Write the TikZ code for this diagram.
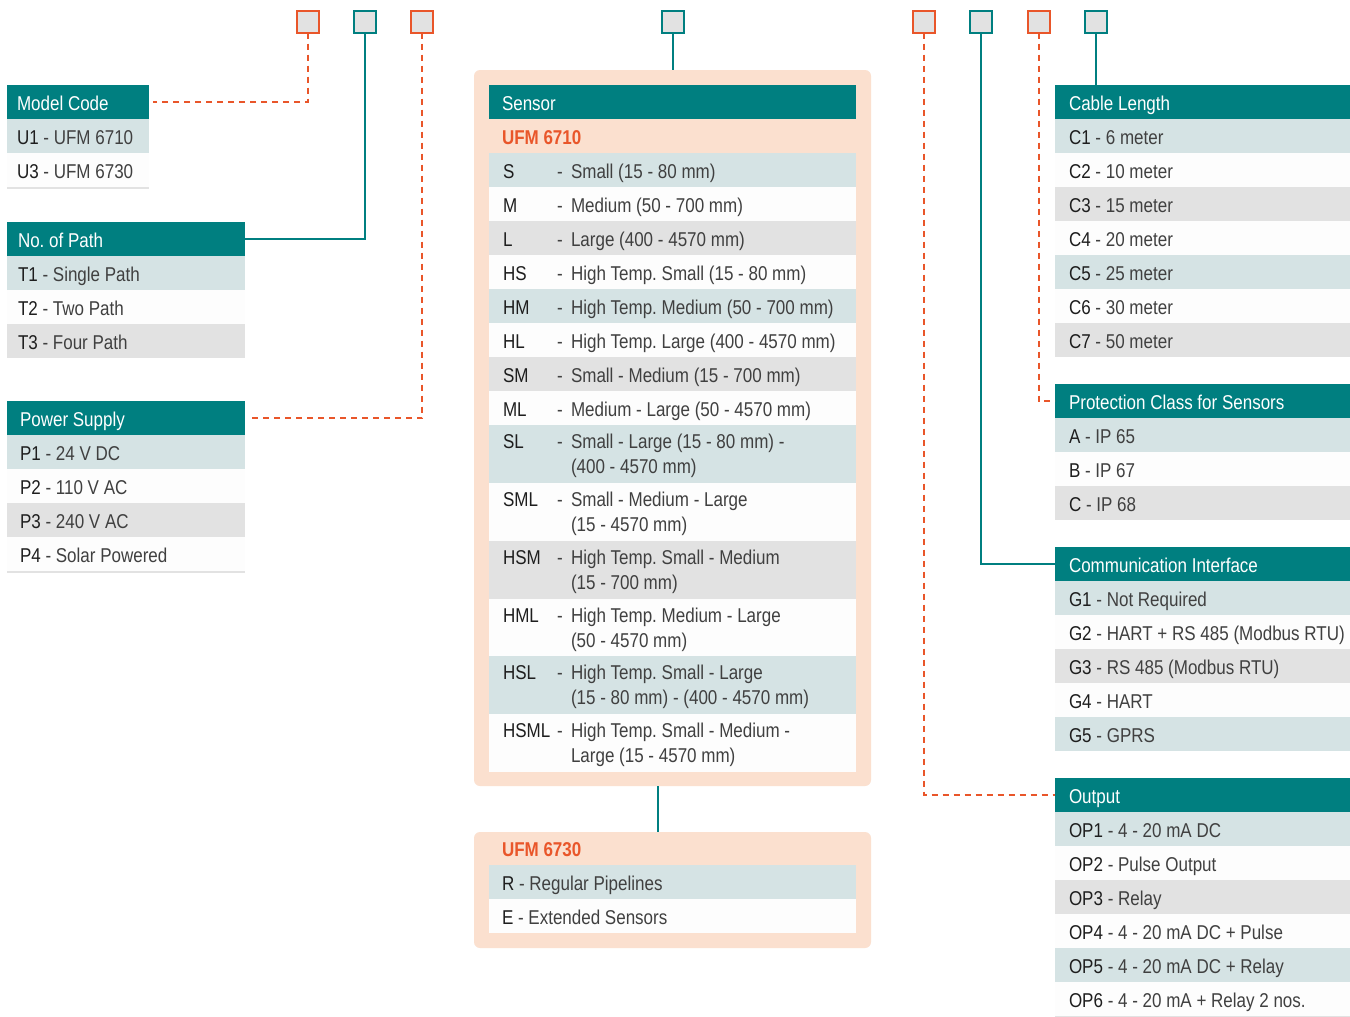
\documentclass[tikz,border=0pt]{standalone}
\usepackage{fontspec}
\setmainfont[FakeStretch=0.85]{Liberation Sans}
\definecolor{tealc}{HTML}{007F80}
\definecolor{orangec}{HTML}{E9562A}
\definecolor{peach}{HTML}{FBE0CF}
\definecolor{rowA}{HTML}{D5E3E4}
\definecolor{rowB}{HTML}{FDFDFD}
\definecolor{rowC}{HTML}{E2E2E2}
\definecolor{codec}{HTML}{1E1E1E}
\definecolor{txtc}{HTML}{404040}
\tikzset{
  every node/.style={font=\fontsize{20}{24}\selectfont, inner sep=0pt, outer sep=0pt},
  hdr/.style={fill=tealc, anchor=north west, minimum height=34, rectangle},
  hdrtxt/.style={anchor=base west, text=white},
  rowbox/.style={anchor=north west, minimum height=#1, rectangle},
  rowbox/.default=34,
  rowtxt/.style={anchor=base west, text=txtc},
  sqo/.style={draw=orangec, fill=rowC, line width=2pt, minimum size=22, rectangle},
  sqt/.style={draw=tealc, fill=rowC, line width=2pt, minimum size=22, rectangle},
  odash/.style={draw=orangec, line width=2pt, dash pattern=on 6pt off 5pt},
  tline/.style={draw=tealc, line width=2pt},
  outerbox/.style={fill=peach, rounded corners=6pt, anchor=north west, rectangle},
  ufm/.style={anchor=base west, text=orangec, font=\fontsize{20}{24}\selectfont\bfseries},
  bline/.style={fill=rowC, anchor=north west, minimum height=2, rectangle}
}
% header: name, x, y, width, pad, title
\newcommand\tblhdr[6]{%
  \node[hdr, minimum width=#4] (#1) at (#2,#3) {};
  \node[hdrtxt] (#1t) at (#2+#5,#3+25) {#6};}
% row: name, x, y, width, fill, pad, code, desc
\newcommand\tblrow[8]{%
  \node[rowbox, fill=#5, minimum width=#4] (#1) at (#2,#3) {};
  \node[rowtxt] (#1t) at (#2+#6,#3+25.5) {\textcolor{codec}{#7} - #8};}
% sensor single row: name, y, fill, code, desc
\newcommand\srow[5]{%
  \node[rowbox, fill=#3, minimum width=367] (#1) at (489,#2) {};
  \node[rowtxt] (#1c) at (503,#2+25.5) {\textcolor{codec}{#4}};
  \node[rowtxt] (#1d) at (557,#2+25.5) {-};
  \node[rowtxt] (#1t) at (571,#2+25.5) {#5};}
% sensor double row: name, y, fill, code, line1, line2
\newcommand\drow[6]{%
  \node[rowbox=58, fill=#3, minimum width=367] (#1) at (489,#2) {};
  \node[rowtxt] (#1c) at (503,#2+23.5) {\textcolor{codec}{#4}};
  \node[rowtxt] (#1d) at (557,#2+23.5) {-};
  \node[rowtxt] (#1t) at (571,#2+23.5) {#5};
  \node[rowtxt] (#1u) at (571,#2+48.5) {#6};}
\begin{document}
\frenchspacing
\begin{tikzpicture}[x=1pt, y=-1pt]
\useasboundingbox[fill=white] (0,0) rectangle (1350,1017);

% top code boxes
\node[sqo] (b1) at (307.5,21.5) {};
\node[sqt] (b2) at (365,21.5) {};
\node[sqo] (b3) at (422,21.5) {};
\node[sqt] (b4) at (673,21.5) {};
\node[sqo] (b5) at (924,21.5) {};
\node[sqt] (b6) at (981,21.5) {};
\node[sqo] (b7) at (1038.5,21.5) {};
\node[sqt] (b8) at (1096,21.5) {};

% Model Code
\tblhdr{hModel}{7}{85}{142}{10}{Model Code}
\tblrow{u1}{7}{119}{142}{rowA}{10}{U1}{UFM 6710}
\tblrow{u3}{7}{153}{142}{rowB}{10}{U3}{UFM 6730}
\node[bline, minimum width=142] (ul) at (7,187) {};

% No. of Path
\tblhdr{hPath}{7}{222}{238}{11}{No. of Path}
\tblrow{t1}{7}{256}{238}{rowA}{11}{T1}{Single Path}
\tblrow{t2}{7}{290}{238}{rowB}{11}{T2}{Two Path}
\tblrow{t3}{7}{324}{238}{rowC}{11}{T3}{Four Path}

% Power Supply
\tblhdr{hPower}{7}{401}{238}{13}{Power Supply}
\tblrow{p1}{7}{435}{238}{rowA}{13}{P1}{24 V DC}
\tblrow{p2}{7}{469}{238}{rowB}{13}{P2}{110 V AC}
\tblrow{p3}{7}{503}{238}{rowC}{13}{P3}{240 V AC}
\tblrow{p4}{7}{537}{238}{rowB}{13}{P4}{Solar Powered}
\node[bline, minimum width=238] (pl) at (7,571) {};

% Sensor
\node[outerbox, minimum width=397, minimum height=716] (sOuter) at (474,70) {};
\tblhdr{hSensor}{489}{85}{367}{13}{Sensor}
\node[ufm] (u6710) at (502,144) {UFM 6710};
\srow{sS}{153}{rowA}{S}{Small (15 - 80 mm)}
\srow{sM}{187}{rowB}{M}{Medium (50 - 700 mm)}
\srow{sL}{221}{rowC}{L}{Large (400 - 4570 mm)}
\srow{sHS}{255}{rowB}{HS}{High Temp. Small (15 - 80 mm)}
\srow{sHM}{289}{rowA}{HM}{High Temp. Medium (50 - 700 mm)}
\srow{sHL}{323}{rowB}{HL}{High Temp. Large (400 - 4570 mm)}
\srow{sSM}{357}{rowC}{SM}{Small - Medium (15 - 700 mm)}
\srow{sML}{391}{rowB}{ML}{Medium - Large (50 - 4570 mm)}
\drow{sSL}{425}{rowA}{SL}{Small - Large (15 - 80 mm) -}{(400 - 4570 mm)}
\drow{sSML}{483}{rowB}{SML}{Small - Medium - Large}{(15 - 4570 mm)}
\drow{sHSM}{541}{rowC}{HSM}{High Temp. Small - Medium}{(15 - 700 mm)}
\drow{sHML}{599}{rowB}{HML}{High Temp. Medium - Large}{(50 - 4570 mm)}
\drow{sHSL}{656}{rowA}{HSL}{High Temp. Small - Large}{(15 - 80 mm) - (400 - 4570 mm)}
\drow{sHSML}{714}{rowB}{HSML}{High Temp. Small - Medium -}{Large (15 - 4570 mm)}

% UFM 6730
\node[outerbox, minimum width=397, minimum height=116] (uOuter) at (474,832) {};
\node[ufm] (u6730) at (502,856) {UFM 6730};
\tblrow{rR}{489}{865}{367}{rowA}{13}{R}{Regular Pipelines}
\tblrow{rE}{489}{899}{367}{rowB}{13}{E}{Extended Sensors}

% Cable Length
\tblhdr{hCable}{1055}{85}{295}{14}{Cable Length}
\tblrow{c1}{1055}{119}{295}{rowA}{14}{C1}{6 meter}
\tblrow{c2}{1055}{153}{295}{rowB}{14}{C2}{10 meter}
\tblrow{c3}{1055}{187}{295}{rowC}{14}{C3}{15 meter}
\tblrow{c4}{1055}{221}{295}{rowB}{14}{C4}{20 meter}
\tblrow{c5}{1055}{255}{295}{rowA}{14}{C5}{25 meter}
\tblrow{c6}{1055}{289}{295}{rowB}{14}{C6}{30 meter}
\tblrow{c7}{1055}{323}{295}{rowC}{14}{C7}{50 meter}

% Protection Class
\tblhdr{hProt}{1055}{384}{295}{14}{Protection Class for Sensors}
\tblrow{pa}{1055}{418}{295}{rowA}{14}{A}{IP 65}
\tblrow{pb}{1055}{452}{295}{rowB}{14}{B}{IP 67}
\tblrow{pc}{1055}{486}{295}{rowC}{14}{C}{IP 68}

% Communication Interface
\tblhdr{hComm}{1055}{547}{295}{14}{Communication Interface}
\tblrow{g1}{1055}{581}{295}{rowA}{14}{G1}{Not Required}
\tblrow{g2}{1055}{615}{295}{rowB}{14}{G2}{HART + RS 485 (Modbus RTU)}
\tblrow{g3}{1055}{649}{295}{rowC}{14}{G3}{RS 485 (Modbus RTU)}
\tblrow{g4}{1055}{683}{295}{rowB}{14}{G4}{HART}
\tblrow{g5}{1055}{717}{295}{rowA}{14}{G5}{GPRS}

% Output
\tblhdr{hOut}{1055}{778}{295}{14}{Output}
\tblrow{o1}{1055}{812}{295}{rowA}{14}{OP1}{4 - 20 mA DC}
\tblrow{o2}{1055}{846}{295}{rowB}{14}{OP2}{Pulse Output}
\tblrow{o3}{1055}{880}{295}{rowC}{14}{OP3}{Relay}
\tblrow{o4}{1055}{914}{295}{rowB}{14}{OP4}{4 - 20 mA DC + Pulse}
\tblrow{o5}{1055}{948}{295}{rowA}{14}{OP5}{4 - 20 mA DC + Relay}
\tblrow{o6}{1055}{982}{295}{rowB}{14}{OP6}{4 - 20 mA + Relay 2 nos.}
\node[bline, minimum width=295] (ol) at (1055,1016) {};

% connectors
\draw[odash] (b1.south) |- ([xshift=4pt]hModel.east);
\draw[tline] (b2.south) |- (hPath.east);
\draw[odash] (b3.south) |- ([xshift=6pt]hPower.east);
\draw[tline] (b4.south) -- (b4.south |- sOuter.north);
\draw[tline] ([xshift=-15pt]sOuter.south) -- ([xshift=-15pt]uOuter.north);
\draw[odash] (b5.south) |- (hOut.west);
\draw[tline] (b6.south) |- (hComm.west);
\draw[odash] (b7.south) |- (hProt.west);
\draw[tline] (b8.south) -- (b8.south |- hCable.north);
\end{tikzpicture}
\end{document}
